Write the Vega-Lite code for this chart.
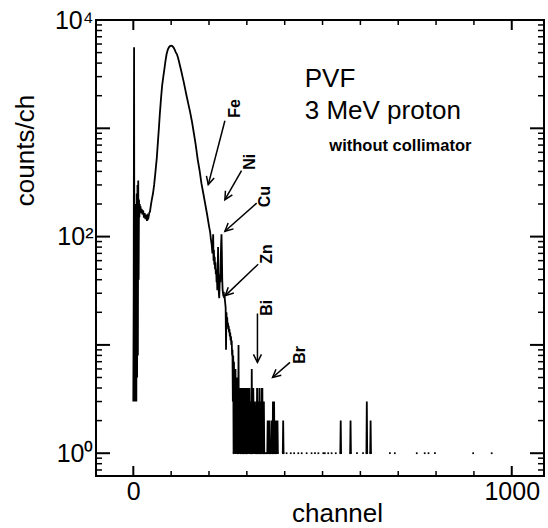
{
  "$schema": "https://vega.github.io/schema/vega-lite/v6.json",
  "width": 448,
  "height": 456,
  "autosize": "none",
  "padding": {"left": 96, "top": 20, "right": 4, "bottom": 52},
  "background": "white",
  "config": {
    "view": {"stroke": "black", "strokeWidth": 2},
    "font": "Liberation Sans",
    "axis": {"domain": false, "grid": false, "ticks": false, "labelColor": "black", "titleColor": "black", "labelFont": "Liberation Sans", "titleFont": "Liberation Sans", "labelOverlap": false, "labelFlush": false}
  },
  "datasets": {
    "spec": [
      {"ch":0,"c":3},{"ch":1,"c":30},{"ch":2,"c":5600},{"ch":3,"c":4},{"ch":4,"c":3},{"ch":5,"c":120},{"ch":6,"c":4},{"ch":7,"c":200},{"ch":8,"c":3},{"ch":9,"c":250},{"ch":10,"c":5},{"ch":11,"c":300},{"ch":12,"c":8},{"ch":13,"c":330},{"ch":14,"c":40},{"ch":15,"c":220},{"ch":16,"c":150},{"ch":17,"c":200},{"ch":18,"c":170},{"ch":19,"c":190},{"ch":20,"c":165},{"ch":22,"c":180},{"ch":24,"c":160},{"ch":26,"c":175},{"ch":28,"c":150},{"ch":30,"c":165},{"ch":32,"c":145},{"ch":34,"c":160},{"ch":36,"c":140},{"ch":38,"c":155},{"ch":40,"c":150},{"ch":42,"c":165},{"ch":44,"c":170},{"ch":46,"c":190},{"ch":48,"c":210},{"ch":50,"c":230},
      {"ch":52,"c":250},{"ch":55,"c":300},{"ch":58,"c":380},{"ch":60,"c":450},{"ch":62,"c":530},{"ch":65,"c":750},{"ch":68,"c":1050},{"ch":70,"c":1350},{"ch":73,"c":1850},{"ch":76,"c":2450},{"ch":79,"c":2950},{"ch":82,"c":3500},{"ch":85,"c":4200},{"ch":88,"c":4850},{"ch":91,"c":5300},{"ch":94,"c":5600},{"ch":97,"c":5750},{"ch":100,"c":5800},{"ch":103,"c":5750},{"ch":106,"c":5600},{"ch":109,"c":5350},{"ch":112,"c":5050},{"ch":115,"c":4850},{"ch":118,"c":4500},{"ch":121,"c":4100},{"ch":124,"c":3700},{"ch":127,"c":3350},{"ch":130,"c":3000},{"ch":133,"c":2700},{"ch":136,"c":2400},{"ch":140,"c":2050},{"ch":145,"c":1700},{"ch":150,"c":1420},{"ch":155,"c":1150},{"ch":160,"c":900},{"ch":165,"c":700},{"ch":170,"c":520},{"ch":175,"c":410},{"ch":180,"c":310},{"ch":185,"c":250},{"ch":190,"c":200},{"ch":195,"c":160},{"ch":200,"c":125},{"ch":203,"c":110},{"ch":205,"c":95},{"ch":207,"c":85},{"ch":209,"c":70},{"ch":210,"c":80},{"ch":211,"c":105},{"ch":212,"c":60},{"ch":213,"c":75},{"ch":214,"c":55},{"ch":215,"c":65},{"ch":216,"c":50},{"ch":217,"c":58},{"ch":218,"c":45},{"ch":219,"c":50},{"ch":220,"c":38},{"ch":221,"c":42},{"ch":222,"c":32},{"ch":223,"c":50},{"ch":224,"c":80},{"ch":225,"c":40},{"ch":226,"c":30},{"ch":227,"c":27},{"ch":228,"c":35},{"ch":229,"c":45},{"ch":230,"c":38},{"ch":231,"c":60},{"ch":232,"c":85},{"ch":233,"c":105},{"ch":234,"c":70},{"ch":235,"c":40},{"ch":236,"c":32},{"ch":237,"c":30},{"ch":238,"c":28},{"ch":239,"c":31},{"ch":240,"c":27},{"ch":241,"c":29},{"ch":242,"c":26},{"ch":243,"c":24},{"ch":244,"c":22},{"ch":245,"c":9},{"ch":246,"c":20},{"ch":247,"c":17},{"ch":248,"c":18},{"ch":249,"c":15},{"ch":250,"c":16},{"ch":251,"c":14},{"ch":252,"c":15},{"ch":253,"c":13},{"ch":254,"c":14},{"ch":255,"c":12},{"ch":256,"c":13},{"ch":257,"c":11},{"ch":258,"c":12},{"ch":259,"c":10},{"ch":260,"c":11},{"ch":261,"c":8},{"ch":262,"c":9},{"ch":263,"c":3},{"ch":264,"c":8},
      {"ch":265,"c":1},{"ch":266,"c":7},{"ch":267,"c":2},{"ch":268,"c":5},{"ch":269,"c":1},{"ch":270,"c":6},{"ch":271,"c":1},{"ch":272,"c":4},{"ch":273,"c":2},{"ch":274,"c":5},{"ch":275,"c":1},{"ch":276,"c":4},{"ch":277,"c":1},{"ch":278,"c":10},{"ch":279,"c":1},{"ch":280,"c":4},{"ch":281,"c":2},{"ch":282,"c":4},{"ch":283,"c":1},{"ch":284,"c":3},{"ch":285,"c":1},{"ch":286,"c":4},{"ch":287,"c":2},{"ch":288,"c":4},{"ch":289,"c":1},{"ch":290,"c":3},{"ch":291,"c":1},{"ch":292,"c":4},{"ch":293,"c":1},{"ch":294,"c":4},{"ch":295,"c":2},{"ch":296,"c":3},{"ch":297,"c":1},{"ch":298,"c":4},{"ch":299,"c":1},{"ch":300,"c":4},{"ch":301,"c":1},{"ch":302,"c":3},{"ch":303,"c":1},{"ch":304,"c":4},{"ch":305,"c":2},{"ch":306,"c":1},{"ch":307,"c":4},{"ch":308,"c":1},{"ch":309,"c":3},{"ch":310,"c":1},{"ch":311,"c":2},{"ch":312,"c":1},{"ch":313,"c":6},{"ch":314,"c":1},{"ch":315,"c":3},{"ch":316,"c":1},{"ch":317,"c":4},{"ch":318,"c":2},{"ch":319,"c":1},{"ch":320,"c":3},{"ch":321,"c":1},{"ch":322,"c":2},{"ch":323,"c":1},{"ch":324,"c":1},{"ch":325,"c":3},{"ch":326,"c":1},{"ch":327,"c":4},{"ch":328,"c":1},{"ch":329,"c":2},{"ch":330,"c":1},{"ch":331,"c":3},{"ch":332,"c":1},{"ch":333,"c":4},{"ch":334,"c":1},{"ch":335,"c":3},{"ch":336,"c":1},{"ch":337,"c":2},{"ch":338,"c":1},{"ch":339,"c":4},{"ch":340,"c":1},{"ch":341,"c":4},{"ch":342,"c":1},{"ch":343,"c":2},{"ch":344,"c":1},{"ch":345,"c":3},{"ch":346,"c":1},{"ch":347,"c":null},{"ch":349,"c":1},{"ch":350,"c":null},{"ch":352,"c":1},{"ch":353,"c":null},{"ch":354,"c":1},{"ch":355,"c":2},{"ch":356,"c":1},{"ch":357,"c":null},{"ch":358,"c":1},{"ch":359,"c":2},{"ch":360,"c":1},{"ch":361,"c":null},{"ch":362,"c":1},{"ch":363,"c":null},{"ch":364,"c":1},{"ch":365,"c":2},{"ch":366,"c":1},{"ch":367,"c":null},{"ch":368,"c":1},{"ch":369,"c":3},{"ch":370,"c":1},{"ch":371,"c":2},{"ch":372,"c":3},{"ch":373,"c":1},{"ch":374,"c":null},{"ch":376,"c":1},{"ch":377,"c":2},{"ch":378,"c":1},{"ch":379,"c":null},{"ch":380,"c":1},{"ch":381,"c":2},{"ch":382,"c":1},{"ch":383,"c":null},{"ch":395,"c":1},{"ch":396,"c":2},{"ch":397,"c":1},{"ch":398,"c":null},
      {"ch":405,"c":1},{"ch":406,"c":null},{"ch":416,"c":1},{"ch":417,"c":null},{"ch":425,"c":1},{"ch":426,"c":null},{"ch":436,"c":1},{"ch":437,"c":null},{"ch":445,"c":1},{"ch":446,"c":null},{"ch":458,"c":1},{"ch":459,"c":null},{"ch":471,"c":1},{"ch":472,"c":null},{"ch":480,"c":1},{"ch":481,"c":null},{"ch":489,"c":1},{"ch":490,"c":null},{"ch":502,"c":1},{"ch":503,"c":null},{"ch":506,"c":1},{"ch":507,"c":null},{"ch":515,"c":1},{"ch":516,"c":null},{"ch":524,"c":1},{"ch":525,"c":null},{"ch":535,"c":1},{"ch":536,"c":null},
      {"ch":547,"c":1},{"ch":548,"c":2},{"ch":549,"c":1},{"ch":550,"c":null},{"ch":573,"c":1},{"ch":574,"c":2},{"ch":575,"c":1},{"ch":576,"c":null},{"ch":591,"c":1},{"ch":592,"c":null},{"ch":607,"c":1},{"ch":608,"c":null},{"ch":616,"c":1},{"ch":617,"c":3},{"ch":618,"c":1},{"ch":619,"c":null},{"ch":626,"c":1},{"ch":627,"c":2},{"ch":628,"c":1},{"ch":629,"c":null},
      {"ch":678,"c":1},{"ch":679,"c":null},{"ch":691,"c":1},{"ch":692,"c":null},{"ch":749,"c":1},{"ch":750,"c":null},{"ch":770,"c":1},{"ch":771,"c":null},{"ch":780,"c":1},{"ch":781,"c":null},{"ch":797,"c":1},{"ch":798,"c":null},{"ch":898,"c":1},{"ch":899,"c":null},{"ch":947,"c":1},{"ch":948,"c":null}
    ],
    "tk": [
      {"k":"maj","ch":-98.6,"ch2":-61.6,"c":1,"c2":1},{"k":"maj","ch":-98.6,"ch2":-61.6,"c":10,"c2":10},{"k":"maj","ch":-98.6,"ch2":-61.6,"c":100,"c2":100},{"k":"maj","ch":-98.6,"ch2":-61.6,"c":1000,"c2":1000},{"k":"maj","ch":-98.6,"ch2":-61.6,"c":10000,"c2":10000},
      {"k":"maj","ch":1048.2,"ch2":1085.2,"c":1,"c2":1},{"k":"maj","ch":1048.2,"ch2":1085.2,"c":10,"c2":10},{"k":"maj","ch":1048.2,"ch2":1085.2,"c":100,"c2":100},{"k":"maj","ch":1048.2,"ch2":1085.2,"c":1000,"c2":1000},{"k":"maj","ch":1048.2,"ch2":1085.2,"c":10000,"c2":10000},
      {"k":"maj","ch":0,"ch2":0,"c":0.616,"c2":0.762},{"k":"maj","ch":1000,"ch2":1000,"c":0.616,"c2":0.762},
      {"k":"maj","ch":0,"ch2":0,"c":8086,"c2":10000},{"k":"maj","ch":1000,"ch2":1000,"c":8086,"c2":10000},
      {"k":"min","ch":100,"ch2":100,"c":0.616,"c2":0.685},{"k":"min","ch":200,"ch2":200,"c":0.616,"c2":0.685},{"k":"min","ch":300,"ch2":300,"c":0.616,"c2":0.685},{"k":"min","ch":400,"ch2":400,"c":0.616,"c2":0.685},{"k":"min","ch":500,"ch2":500,"c":0.616,"c2":0.685},{"k":"min","ch":600,"ch2":600,"c":0.616,"c2":0.685},{"k":"min","ch":700,"ch2":700,"c":0.616,"c2":0.685},{"k":"min","ch":800,"ch2":800,"c":0.616,"c2":0.685},{"k":"min","ch":900,"ch2":900,"c":0.616,"c2":0.685},
      {"k":"min","ch":100,"ch2":100,"c":8993,"c2":10000},{"k":"min","ch":200,"ch2":200,"c":8993,"c2":10000},{"k":"min","ch":300,"ch2":300,"c":8993,"c2":10000},{"k":"min","ch":400,"ch2":400,"c":8993,"c2":10000},{"k":"min","ch":500,"ch2":500,"c":8993,"c2":10000},{"k":"min","ch":600,"ch2":600,"c":8993,"c2":10000},{"k":"min","ch":700,"ch2":700,"c":8993,"c2":10000},{"k":"min","ch":800,"ch2":800,"c":8993,"c2":10000},{"k":"min","ch":900,"ch2":900,"c":8993,"c2":10000},
      {"k":"min","ch":-98.6,"ch2":-82.7,"c":0.7,"c2":0.7},{"k":"min","ch":-98.6,"ch2":-82.7,"c":0.8,"c2":0.8},{"k":"min","ch":-98.6,"ch2":-82.7,"c":0.9,"c2":0.9},
      {"k":"min","ch":-98.6,"ch2":-82.7,"c":2,"c2":2},{"k":"min","ch":-98.6,"ch2":-82.7,"c":3,"c2":3},{"k":"min","ch":-98.6,"ch2":-82.7,"c":4,"c2":4},{"k":"min","ch":-98.6,"ch2":-82.7,"c":5,"c2":5},{"k":"min","ch":-98.6,"ch2":-82.7,"c":6,"c2":6},{"k":"min","ch":-98.6,"ch2":-82.7,"c":7,"c2":7},{"k":"min","ch":-98.6,"ch2":-82.7,"c":8,"c2":8},{"k":"min","ch":-98.6,"ch2":-82.7,"c":9,"c2":9},
      {"k":"min","ch":-98.6,"ch2":-82.7,"c":20,"c2":20},{"k":"min","ch":-98.6,"ch2":-82.7,"c":30,"c2":30},{"k":"min","ch":-98.6,"ch2":-82.7,"c":40,"c2":40},{"k":"min","ch":-98.6,"ch2":-82.7,"c":50,"c2":50},{"k":"min","ch":-98.6,"ch2":-82.7,"c":60,"c2":60},{"k":"min","ch":-98.6,"ch2":-82.7,"c":70,"c2":70},{"k":"min","ch":-98.6,"ch2":-82.7,"c":80,"c2":80},{"k":"min","ch":-98.6,"ch2":-82.7,"c":90,"c2":90},
      {"k":"min","ch":-98.6,"ch2":-82.7,"c":200,"c2":200},{"k":"min","ch":-98.6,"ch2":-82.7,"c":300,"c2":300},{"k":"min","ch":-98.6,"ch2":-82.7,"c":400,"c2":400},{"k":"min","ch":-98.6,"ch2":-82.7,"c":500,"c2":500},{"k":"min","ch":-98.6,"ch2":-82.7,"c":600,"c2":600},{"k":"min","ch":-98.6,"ch2":-82.7,"c":700,"c2":700},{"k":"min","ch":-98.6,"ch2":-82.7,"c":800,"c2":800},{"k":"min","ch":-98.6,"ch2":-82.7,"c":900,"c2":900},
      {"k":"min","ch":-98.6,"ch2":-82.7,"c":2000,"c2":2000},{"k":"min","ch":-98.6,"ch2":-82.7,"c":3000,"c2":3000},{"k":"min","ch":-98.6,"ch2":-82.7,"c":4000,"c2":4000},{"k":"min","ch":-98.6,"ch2":-82.7,"c":5000,"c2":5000},{"k":"min","ch":-98.6,"ch2":-82.7,"c":6000,"c2":6000},{"k":"min","ch":-98.6,"ch2":-82.7,"c":7000,"c2":7000},{"k":"min","ch":-98.6,"ch2":-82.7,"c":8000,"c2":8000},{"k":"min","ch":-98.6,"ch2":-82.7,"c":9000,"c2":9000},
      {"k":"min","ch":1069.3,"ch2":1085.2,"c":0.7,"c2":0.7},{"k":"min","ch":1069.3,"ch2":1085.2,"c":0.8,"c2":0.8},{"k":"min","ch":1069.3,"ch2":1085.2,"c":0.9,"c2":0.9},
      {"k":"min","ch":1069.3,"ch2":1085.2,"c":2,"c2":2},{"k":"min","ch":1069.3,"ch2":1085.2,"c":3,"c2":3},{"k":"min","ch":1069.3,"ch2":1085.2,"c":4,"c2":4},{"k":"min","ch":1069.3,"ch2":1085.2,"c":5,"c2":5},{"k":"min","ch":1069.3,"ch2":1085.2,"c":6,"c2":6},{"k":"min","ch":1069.3,"ch2":1085.2,"c":7,"c2":7},{"k":"min","ch":1069.3,"ch2":1085.2,"c":8,"c2":8},{"k":"min","ch":1069.3,"ch2":1085.2,"c":9,"c2":9},
      {"k":"min","ch":1069.3,"ch2":1085.2,"c":20,"c2":20},{"k":"min","ch":1069.3,"ch2":1085.2,"c":30,"c2":30},{"k":"min","ch":1069.3,"ch2":1085.2,"c":40,"c2":40},{"k":"min","ch":1069.3,"ch2":1085.2,"c":50,"c2":50},{"k":"min","ch":1069.3,"ch2":1085.2,"c":60,"c2":60},{"k":"min","ch":1069.3,"ch2":1085.2,"c":70,"c2":70},{"k":"min","ch":1069.3,"ch2":1085.2,"c":80,"c2":80},{"k":"min","ch":1069.3,"ch2":1085.2,"c":90,"c2":90},
      {"k":"min","ch":1069.3,"ch2":1085.2,"c":200,"c2":200},{"k":"min","ch":1069.3,"ch2":1085.2,"c":300,"c2":300},{"k":"min","ch":1069.3,"ch2":1085.2,"c":400,"c2":400},{"k":"min","ch":1069.3,"ch2":1085.2,"c":500,"c2":500},{"k":"min","ch":1069.3,"ch2":1085.2,"c":600,"c2":600},{"k":"min","ch":1069.3,"ch2":1085.2,"c":700,"c2":700},{"k":"min","ch":1069.3,"ch2":1085.2,"c":800,"c2":800},{"k":"min","ch":1069.3,"ch2":1085.2,"c":900,"c2":900},
      {"k":"min","ch":1069.3,"ch2":1085.2,"c":2000,"c2":2000},{"k":"min","ch":1069.3,"ch2":1085.2,"c":3000,"c2":3000},{"k":"min","ch":1069.3,"ch2":1085.2,"c":4000,"c2":4000},{"k":"min","ch":1069.3,"ch2":1085.2,"c":5000,"c2":5000},{"k":"min","ch":1069.3,"ch2":1085.2,"c":6000,"c2":6000},{"k":"min","ch":1069.3,"ch2":1085.2,"c":7000,"c2":7000},{"k":"min","ch":1069.3,"ch2":1085.2,"c":8000,"c2":8000},{"k":"min","ch":1069.3,"ch2":1085.2,"c":9000,"c2":9000}
    ],
    "ann": [
      {"t":"PVF","ch":453,"c":2393,"k":"big"},
      {"t":"3 MeV proton","ch":453,"c":1222,"k":"big"},
      {"t":"without collimator","ch":518,"c":622,"k":"small"},
      {"t":"Fe","ch":269,"c":1528,"k":"el"},
      {"t":"Ni","ch":308,"c":490,"k":"el"},
      {"t":"Cu","ch":348,"c":234,"k":"el"},
      {"t":"Zn","ch":352,"c":69,"k":"el"},
      {"t":"Bi","ch":353,"c":22,"k":"el"},
      {"t":"Br","ch":440,"c":8.1,"k":"el"}
    ],
    "arrows": [
      {"el":"Fe","ch":242,"c":1175,"ch2":198,"c2":302,"a":195},
      {"el":"Ni","ch":286,"c":407,"ch2":242,"c2":219,"a":210},
      {"el":"Cu","ch":326,"c":204,"ch2":242,"c2":112,"a":228},
      {"el":"Zn","ch":330,"c":55.6,"ch2":243,"c2":28.5,"a":226},
      {"el":"Bi","ch":328,"c":19.5,"ch2":328,"c2":6.9,"a":180},
      {"el":"Br","ch":414,"c":6.9,"ch2":368,"c2":5,"a":229}
    ]
  },
  "layer": [
    {
      "data": {"name": "spec"},
      "mark": {"type": "line", "color": "black", "strokeWidth": 1.8, "clip": true},
      "encoding": {
        "x": {"field": "ch", "type": "quantitative",
              "scale": {"domain": [-98.6, 1085.2], "nice": false, "zero": false},
              "axis": {"orient": "bottom", "values": [0, 1000], "format": "d", "ticks": false, "labelFontSize": 25, "labelPadding": 3.5, "labelBaseline": "top", "title": "channel", "titleFontSize": 26, "titleFontWeight": "normal", "titleX": 241, "titleY": 45.5, "titleBaseline": "alphabetic"}},
        "y": {"field": "c", "type": "quantitative",
              "scale": {"type": "log", "domain": [0.616, 10000], "nice": false},
              "axis": {"orient": "left", "values": [1, 100, 10000], "ticks": false,
                       "labelExpr": "datum.value == 1 ? '10⁰' : datum.value == 100 ? '10²' : '10⁴'",
                       "labelFontSize": 25, "labelPadding": 3, "labelBaseline": "middle", "title": "counts/ch", "titleFontSize": 26, "titleFontWeight": "normal", "titleX": -63, "titleY": 130, "titleBaseline": "alphabetic", "titleAngle": 270}}
      }
    },
    {
      "data": {"name": "tk"},
      "transform": [{"filter": "datum.k == 'maj'"}],
      "mark": {"type": "rule", "color": "black", "strokeWidth": 2},
      "encoding": {
        "x": {"field": "ch", "type": "quantitative"},
        "y": {"field": "c", "type": "quantitative"},
        "x2": {"field": "ch2"},
        "y2": {"field": "c2"}
      }
    },
    {
      "data": {"name": "tk"},
      "transform": [{"filter": "datum.k == 'min'"}],
      "mark": {"type": "rule", "color": "black", "strokeWidth": 1.5},
      "encoding": {
        "x": {"field": "ch", "type": "quantitative"},
        "y": {"field": "c", "type": "quantitative"},
        "x2": {"field": "ch2"},
        "y2": {"field": "c2"}
      }
    },
    {
      "data": {"name": "spec"},
      "transform": [{"filter": "datum.c == 1"}],
      "mark": {"type": "square", "color": "black", "size": 3, "opacity": 1},
      "encoding": {
        "x": {"field": "ch", "type": "quantitative"},
        "y": {"field": "c", "type": "quantitative"}
      }
    },
    {
      "data": {"name": "arrows"},
      "mark": {"type": "rule", "color": "black", "strokeWidth": 1.5},
      "encoding": {
        "x": {"field": "ch", "type": "quantitative"},
        "y": {"field": "c", "type": "quantitative"},
        "x2": {"field": "ch2"},
        "y2": {"field": "c2"}
      }
    },
    {
      "data": {"name": "arrows"},
      "mark": {"type": "point", "shape": "M -0.8 1.6 L 0 0 L 0.8 1.6", "filled": false, "stroke": "black", "strokeWidth": 1.5, "size": 100, "opacity": 1},
      "encoding": {
        "x": {"field": "ch2", "type": "quantitative"},
        "y": {"field": "c2", "type": "quantitative"},
        "angle": {"field": "a", "type": "quantitative", "scale": null}
      }
    },
    {
      "data": {"name": "ann"},
      "transform": [{"filter": "datum.k == 'big'"}],
      "mark": {"type": "text", "align": "left", "baseline": "alphabetic", "fontSize": 26, "font": "Liberation Sans", "color": "black"},
      "encoding": {
        "x": {"field": "ch", "type": "quantitative"},
        "y": {"field": "c", "type": "quantitative"},
        "text": {"field": "t"}
      }
    },
    {
      "data": {"name": "ann"},
      "transform": [{"filter": "datum.k == 'small'"}],
      "mark": {"type": "text", "align": "left", "baseline": "alphabetic", "fontSize": 16.5, "fontWeight": "bold", "font": "Liberation Sans", "color": "black"},
      "encoding": {
        "x": {"field": "ch", "type": "quantitative"},
        "y": {"field": "c", "type": "quantitative"},
        "text": {"field": "t"}
      }
    },
    {
      "data": {"name": "ann"},
      "transform": [{"filter": "datum.k == 'el'"}],
      "mark": {"type": "text", "align": "center", "baseline": "middle", "angle": 270, "fontSize": 16, "fontWeight": "bold", "font": "Liberation Sans", "color": "black"},
      "encoding": {
        "x": {"field": "ch", "type": "quantitative"},
        "y": {"field": "c", "type": "quantitative"},
        "text": {"field": "t"}
      }
    }
  ]
}
